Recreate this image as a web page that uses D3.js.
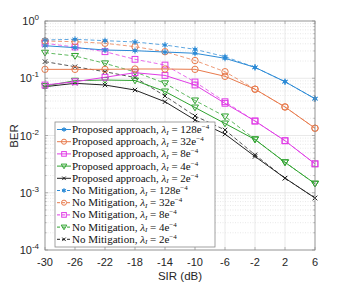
<!DOCTYPE html>
<html>
<head>
<meta charset="utf-8">
<script src="https://cdn.jsdelivr.net/npm/d3@7"></script>
<style>
  body { margin: 0; background: #fff; }
  svg { display: block; }
  .serif { font-family: 'Liberation Serif', 'DejaVu Serif', serif; }
  .sans { font-family: 'Liberation Sans', Arial, sans-serif; }
</style>
</head>
<body>
<svg id="chart" width="349" height="284"></svg>
<script>
// SIR values (dB) on the x axis
const sir = [-30, -26, -22, -18, -14, -10, -6, -2, 2, 6];
const xTicks = [-30, -26, -22, -18, -14, -10, -6, -2, 2, 6];
const yDecades = [0, -1, -2, -3, -4];
const lambdaLabels = ["128", "32", "8", "4", "2"];

// BER, proposed approach
const proposed128 = [0.370, 0.342, 0.311, 0.303, 0.287, 0.273, 0.223, 0.155, 0.087, 0.0439];
const proposed32 = [0.143, 0.143, 0.143, 0.145, 0.145, 0.143, 0.108, 0.0644, 0.0315, 0.0134];
const proposed8 = [0.0762, 0.087, 0.104, 0.125, 0.112, 0.0762, 0.0365, 0.0179, 0.0081, 0.0032];
const proposed4 = [0.0732, 0.0906, 0.0932, 0.0913, 0.0587, 0.0308, 0.0162, 0.0085, 0.0034, 0.00144];
const proposed2 = [0.0712, 0.0816, 0.0762, 0.0623, 0.0389, 0.0187, 0.0106, 0.0043, 0.0018, 0.00081];

// BER, no mitigation
const noMit128 = [0.466, 0.479, 0.453, 0.430, 0.381, 0.320, 0.238, 0.155, 0.087, 0.0439];
const noMit32 = [0.447, 0.435, 0.408, 0.356, 0.291, 0.204, 0.130, 0.0644, 0.0315, 0.0134];
const noMit8 = [0.408, 0.351, 0.291, 0.214, 0.170, 0.086, 0.0389, 0.0179, 0.0081, 0.0032];
const noMit4 = [0.279, 0.245, 0.182, 0.129, 0.0816, 0.0409, 0.0215, 0.0086, 0.0034, 0.00144];
const noMit2 = [0.195, 0.159, 0.130, 0.103, 0.049, 0.0219, 0.0125, 0.0046, 0.0018, 0.00081];

const colors = ["#2b8ad6", "#e87a4c", "#e03ce6", "#2fa32f", "#222222"];
const markers = ["star", "circle", "square", "tri", "cross"];

const series = [];
[proposed128, proposed32, proposed8, proposed4, proposed2].forEach((v, i) =>
  series.push({ name: "Proposed approach", lam: lambdaLabels[i], values: v, color: colors[i], marker: markers[i], dashed: false }));
[noMit128, noMit32, noMit8, noMit4, noMit2].forEach((v, i) =>
  series.push({ name: "No Mitigation", lam: lambdaLabels[i], values: v, color: colors[i], marker: markers[i], dashed: true }));

const svg = d3.select("#chart");
const margin = { left: 45, right: 315, top: 21, bottom: 250 };

const x = d3.scaleLinear().domain([-30, 6]).range([margin.left, margin.right]);
const y = d3.scaleLog().domain([1e-4, 1]).range([margin.bottom, margin.top]);

// grid
const grid = svg.append("g");
const minor = [];
for (let e = -4; e < 0; e++) for (let m = 2; m < 10; m++) minor.push(m * Math.pow(10, e));
grid.selectAll("line.minor").data(minor).enter().append("line")
  .attr("x1", margin.left).attr("x2", margin.right)
  .attr("y1", d => y(d)).attr("y2", d => y(d))
  .attr("stroke", "#d8d8d8").attr("stroke-width", 0.6).attr("stroke-dasharray", "1,1.5");
grid.selectAll("line.ymaj").data(yDecades).enter().append("line")
  .attr("x1", margin.left).attr("x2", margin.right)
  .attr("y1", d => y(Math.pow(10, d))).attr("y2", d => y(Math.pow(10, d)))
  .attr("stroke", "#e3e3e3").attr("stroke-width", 0.8);
grid.selectAll("line.xmaj").data(xTicks).enter().append("line")
  .attr("x1", d => x(d)).attr("x2", d => x(d))
  .attr("y1", margin.top).attr("y2", margin.bottom)
  .attr("stroke", "#e3e3e3").attr("stroke-width", 0.8);

// series lines
const line = d3.line().x((d, i) => x(sir[i])).y(d => y(d));
const plot = svg.append("g");

function drawMarker(g, type, color, cx, cy, k = 1) {
  if (type === "circle") {
    g.append("circle").attr("cx", cx).attr("cy", cy).attr("r", 3.2 * k)
      .attr("fill", "none").attr("stroke", color).attr("stroke-width", 1);
  } else if (type === "square") {
    g.append("rect").attr("x", cx - 2.9 * k).attr("y", cy - 2.9 * k).attr("width", 5.8 * k).attr("height", 5.8 * k)
      .attr("fill", "none").attr("stroke", color).attr("stroke-width", 1);
  } else if (type === "tri") {
    g.append("path").attr("d", `M${cx - 3.5 * k},${cy - 2.5 * k} L${cx + 3.5 * k},${cy - 2.5 * k} L${cx},${cy + 3.3 * k} Z`)
      .attr("fill", "none").attr("stroke", color).attr("stroke-width", 1);
  } else if (type === "cross") {
    const r = 2.2 * k;
    g.append("path").attr("d", `M${cx - r},${cy - r} L${cx + r},${cy + r} M${cx - r},${cy + r} L${cx + r},${cy - r}`)
      .attr("stroke", color).attr("stroke-width", 1);
  } else {
    g.append("path").attr("d", `M${cx},${cy - 3 * k} L${cx},${cy + 3 * k} M${cx - 2.6 * k},${cy - 1.5 * k} L${cx + 2.6 * k},${cy + 1.5 * k} M${cx - 2.6 * k},${cy + 1.5 * k} L${cx + 2.6 * k},${cy - 1.5 * k}`)
      .attr("stroke", color).attr("stroke-width", 1);
    g.append("circle").attr("cx", cx).attr("cy", cy).attr("r", 1.6 * k).attr("fill", color);
  }
}

series.slice().reverse().forEach(s => {
  plot.append("path").datum(s.values)
    .attr("d", line)
    .attr("fill", "none")
    .attr("stroke", s.color)
    .attr("stroke-width", s.dashed ? 0.9 : 1)
    .attr("stroke-opacity", s.dashed ? 0.85 : 1)
    .attr("stroke-dasharray", s.dashed ? "4,2.5" : null);
  s.values.forEach((v, i) => drawMarker(plot, s.marker, s.color, x(sir[i]), y(v)));
});

// axes box
svg.append("rect")
  .attr("x", margin.left).attr("y", margin.top)
  .attr("width", margin.right - margin.left).attr("height", margin.bottom - margin.top)
  .attr("fill", "none").attr("stroke", "#8a8a8a").attr("stroke-width", 0.8);

const axisColor = "#262626";
const ticks = svg.append("g").attr("stroke", "#8a8a8a").attr("stroke-width", 0.6);
xTicks.forEach(t => {
  ticks.append("line").attr("x1", x(t)).attr("x2", x(t)).attr("y1", margin.bottom).attr("y2", margin.bottom - 3);
  ticks.append("line").attr("x1", x(t)).attr("x2", x(t)).attr("y1", margin.top).attr("y2", margin.top + 3);
});
minor.concat(yDecades.map(d => Math.pow(10, d))).forEach(v => {
  const len = yDecades.some(d => Math.abs(Math.pow(10, d) - v) < 1e-12) ? 3 : 1.6;
  ticks.append("line").attr("x1", margin.left).attr("x2", margin.left + len).attr("y1", y(v)).attr("y2", y(v));
  ticks.append("line").attr("x1", margin.right).attr("x2", margin.right - len).attr("y1", y(v)).attr("y2", y(v));
});

// tick labels
svg.append("g").selectAll("text").data(xTicks).enter().append("text")
  .attr("class", "sans")
  .attr("x", d => x(d)).attr("y", 266)
  .attr("text-anchor", "middle")
  .attr("font-size", 11)
  .attr("fill", axisColor)
  .text(d => d);

const yl = svg.append("g").attr("class", "sans").attr("fill", axisColor);
yDecades.forEach(d => {
  const t = yl.append("text").attr("x", 39).attr("y", y(Math.pow(10, d)) + 4).attr("text-anchor", "end").attr("font-size", 11);
  t.append("tspan").text("10");
  t.append("tspan").attr("font-size", 8).attr("dy", -5).text(String(d));
});

svg.append("text").attr("class", "sans").attr("x", 180).attr("y", 280).attr("text-anchor", "middle")
  .attr("font-size", 11.5)
  .attr("fill", axisColor).text("SIR (dB)");
svg.append("text").attr("class", "sans").attr("transform", "translate(18,136) rotate(-90)").attr("text-anchor", "middle")
  .attr("font-size", 11.5)
  .attr("fill", axisColor).text("BER");

// legend
const legX = 55, legY = 122, rowH = 12.2;
const leg = svg.append("g");
leg.append("rect").attr("x", legX).attr("y", legY).attr("width", 160).attr("height", 125)
  .attr("fill", "#fff").attr("stroke", "#8a8a8a").attr("stroke-width", 0.8);
series.forEach((s, i) => {
  const cy = legY + 7.5 + i * rowH;
  leg.append("line").attr("x1", legX + 2).attr("x2", legX + 16).attr("y1", cy).attr("y2", cy)
    .attr("stroke", s.color).attr("stroke-width", 1)
    .attr("stroke-dasharray", s.dashed ? "3,2" : null);
  drawMarker(leg, s.marker, s.color, legX + 9, cy, 0.8);
  const t = leg.append("text").attr("class", "serif").attr("x", legX + 17).attr("y", cy + 3.5)
    .attr("font-size", 11)
    .attr("fill", "#111");
  t.append("tspan").text(s.name + ", ");
  t.append("tspan").attr("font-style", "italic").text("λ");
  t.append("tspan").attr("font-size", 7).attr("font-style", "italic").attr("dy", 1.5).text("I");
  t.append("tspan").attr("dy", -1.5).text(" = " + s.lam + "e");
  t.append("tspan").attr("font-size", 7).attr("dy", -4).text("−4");
});
</script>
</body>
</html>
